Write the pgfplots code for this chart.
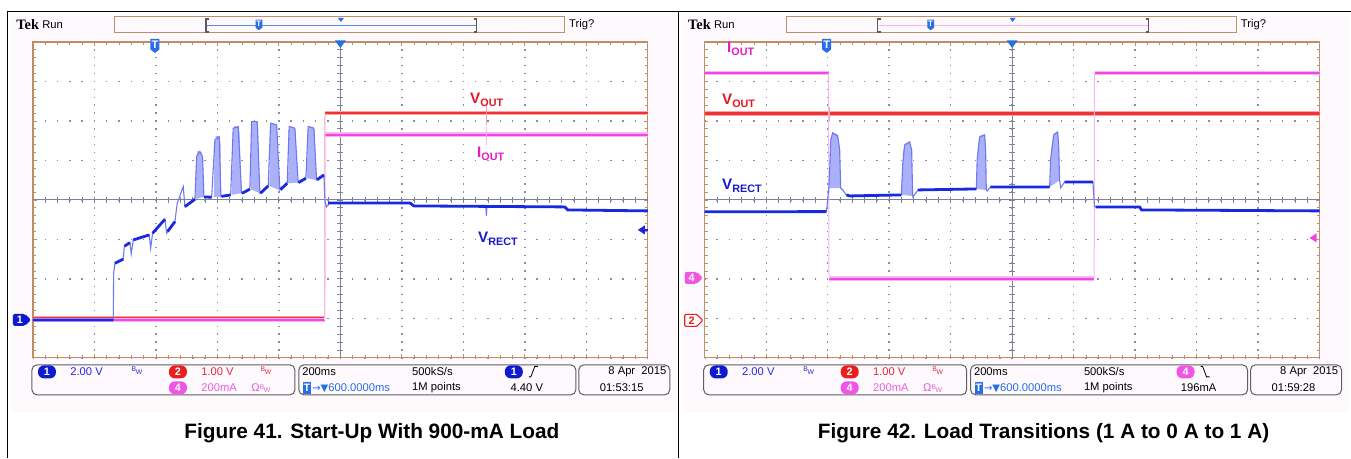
\documentclass[border=0pt]{standalone}
\usepackage{pgfplots}
\usepackage{pgfplotstable}
\pgfplotsset{compat=1.18}
\usepackage{fontspec}
\setmainfont{Liberation Sans}
\newfontfamily\tekfont{Liberation Serif}
\newfontfamily\symfont{DejaVu Sans}

\definecolor{tanc}{RGB}{192,142,100}
\definecolor{gridc}{RGB}{135,140,170}
\definecolor{cenc}{RGB}{125,130,150}
\definecolor{bgc}{RGB}{253,249,253}
\definecolor{c1}{RGB}{25,40,225}
\definecolor{c1l}{RGB}{110,120,240}
\definecolor{c1f}{RGB}{170,177,248}
\definecolor{c2}{RGB}{240,50,55}
\definecolor{c2l}{RGB}{250,165,165}
\definecolor{c4}{RGB}{240,70,228}
\definecolor{c4l}{RGB}{250,180,243}
\definecolor{lab1}{RGB}{25,25,205}
\definecolor{lab2}{RGB}{232,22,35}
\definecolor{lab4}{RGB}{225,30,200}
\definecolor{txt1}{RGB}{40,40,230}
\definecolor{txt2}{RGB}{235,40,60}
\definecolor{txt4}{RGB}{235,95,225}
\definecolor{badge1}{RGB}{15,25,205}
\definecolor{badge2}{RGB}{235,30,30}
\definecolor{badge4}{RGB}{240,85,230}
\definecolor{tpos}{RGB}{40,110,230}
\definecolor{boxc}{RGB}{95,95,95}

\newcommand\sfs{\fontsize{5.6}{6}\selectfont}
\newcommand\sfb{\fontsize{5.4}{6}\bfseries\selectfont}
\newcommand\labf{\fontsize{7.6}{8}\bfseries\selectfont}
\newcommand\capf{\fontsize{10.4}{11}\bfseries\selectfont}
\newcommand\sub[1]{\raisebox{-0.4ex}{\fontsize{5.4}{5}\selectfont #1}}
\newcommand\bw{{\fontsize{3.4}{3}\selectfont\raisebox{0.45ex}{B}\kern-0.05em\raisebox{-0.25ex}{W}}}

\pgfplotsset{scopegrid/.style={
  scale only axis, width=307.5pt, height=158pt,
  xmin=0, xmax=10, ymin=-4, ymax=4,
  axis background/.style={fill=white},
  axis line style={draw=tanc, line width=0.6pt},
  xtick={0,...,10}, ytick={-4,...,4},
  minor tick num=4,
  xticklabels={}, yticklabels={},
  tick align=inside,
  major tick length=1.8pt, minor tick length=1.5pt,
  tick style={draw=tanc, line width=0.4pt},
  xmajorgrids, ymajorgrids,
  major x grid style={draw=gridc, line width=0.7pt, dash pattern=on 0.7pt off 3.25pt, dash phase=0.35pt},
  major y grid style={draw=gridc, line width=0.7pt, dash pattern=on 0.7pt off 5.45pt, dash phase=0.35pt},
  unbounded coords=jump,
}}

% ---------------- Figure 41 data (divisions) ----------------
\pgfplotstableread{
x y
0 -3.00
4.745 -3.00
nan nan
4.755 2.19
7.37 2.19
nan nan
7.39 2.19
10 2.19
}\redA
\pgfplotstableread{
x y
0 -3.04
4.745 -3.04
nan nan
4.755 1.65
7.37 1.65
nan nan
7.39 1.65
10 1.65
}\magA
\pgfplotstableread{
x y
0 -3.04
1.306 -3.04
1.312 -1.856
1.333 -1.603
1.468 -1.501
1.485 -1.182
1.577 -1.081
1.598 -1.367
1.631 -1.013
1.891 -0.886
1.914 -1.223
1.946 -0.843
2.146 -0.489
2.174 -0.843
2.309 -0.549
2.346 -0.084
2.444 0.337
2.472 -0.170
2.634 0.018
2.662 1.096
2.715 1.223
2.759 1.096
2.780 0.084
2.906 0.068
2.959 1.519
3.029 1.603
3.057 0.084
3.215 0.127
3.257 1.815
3.338 1.856
3.393 0.170
3.528 0.271
3.556 1.982
3.647 1.982
3.691 0.170
3.826 0.354
3.865 1.942
3.963 1.899
4.016 0.253
4.135 0.423
4.167 1.856
4.260 1.815
4.314 0.438
4.439 0.549
4.476 1.856
4.569 1.815
4.613 0.506
4.732 0.633
4.748 0.000
4.772 -0.177
4.829 -0.076
6.130 -0.076
6.195 -0.152
7.366 -0.152
7.375 -0.40
7.385 -0.152
8.650 -0.177
8.699 -0.253
10 -0.278
}\blueA
\pgfplotstableread{
x y
0 -3.04
1.306 -3.04
nan nan
1.333 -1.603
1.468 -1.501
nan nan
1.490 -1.170
1.577 -1.081
nan nan
1.631 -1.013
1.891 -0.886
nan nan
1.946 -0.843
2.146 -0.489
nan nan
2.190 -0.800
2.309 -0.549
nan nan
2.472 -0.170
2.634 0.018
nan nan
2.785 0.075
2.906 0.068
nan nan
3.065 0.090
3.215 0.127
nan nan
3.400 0.170
3.528 0.271
nan nan
3.700 0.170
3.826 0.354
nan nan
4.025 0.260
4.135 0.423
nan nan
4.320 0.440
4.439 0.549
nan nan
4.620 0.510
4.732 0.633
nan nan
4.800 -0.080
6.130 -0.076
6.195 -0.152
8.650 -0.177
8.699 -0.253
10 -0.278
}\blueAk

% ---------------- Figure 42 data (divisions) ----------------
\pgfplotstableread{
x y
0 2.19
10 2.19
}\redB
\pgfplotstableread{
x y
0 3.215
2.015 3.215
nan nan
2.025 -2.0
6.335 -2.0
nan nan
6.345 3.215
10 3.215
}\magB
\pgfplotstableread{
x y
0 -0.30
1.979 -0.296
2.000 0.000
2.016 0.253
2.033 0.759
2.049 1.519
2.081 1.696
2.163 1.620
2.195 1.266
2.211 0.304
2.244 0.253
2.304 0.127
2.358 0.101
3.198 0.127
3.220 0.886
3.252 1.392
3.333 1.468
3.366 1.266
3.382 0.101
3.387 0.076
3.468 0.253
4.418 0.278
4.431 1.013
4.472 1.595
4.553 1.646
4.569 1.266
4.580 0.253
4.593 0.228
4.646 0.329
5.610 0.329
5.626 1.013
5.675 1.646
5.740 1.722
5.756 1.392
5.772 0.506
5.789 0.304
5.854 0.456
6.314 0.456
6.341 -0.177
7.073 -0.177
7.106 -0.253
10 -0.278
}\blueB
\pgfplotstableread{
x y
0 -0.30
1.979 -0.296
nan nan
2.304 0.127
2.358 0.101
3.198 0.127
nan nan
3.468 0.253
4.418 0.278
nan nan
4.646 0.329
5.610 0.329
nan nan
5.854 0.456
6.314 0.456
nan nan
6.360 -0.177
7.073 -0.177
7.106 -0.253
10 -0.278
}\blueBk

\newcommand\centerlines{%
  \draw[cenc, line width=0.5pt] (axis cs:5,-4) -- (axis cs:5,4);
  \draw[cenc, line width=0.5pt] (axis cs:0,0) -- (axis cs:10,0);
  \pgfplotsinvokeforeach{0.2,0.4,...,9.9}{\draw[cenc,line width=0.4pt] (axis cs:##1,-0.075) -- (axis cs:##1,0.075);}
  \pgfplotsinvokeforeach{-3.8,-3.6,...,3.9}{\draw[cenc,line width=0.4pt] (axis cs:4.95,##1) -- (axis cs:5.05,##1);}
}

\newcommand\badge[4]{%
  \fill[#3, rounded corners=3pt] (#1-9,#2-6.5) rectangle (#1+9,#2+6.5);
  \node[white, font=\sfb, inner sep=0pt] at (#1,#2) {#4};}
\newcommand\tmark[4]{% x y scale fontsize
  \fill[tpos] (#1-#3*4.5,#2-#3*7) -- (#1+#3*4.5,#2-#3*7) -- (#1+#3*4.5,#2+#3*3.5) -- (#1,#2+#3*7) -- (#1-#3*4.5,#2+#3*3.5) -- cycle;
  \node[white, font=\fontsize{#4}{5}\bfseries\selectfont, inner sep=0pt] at (#1,#2-#3*1) {T};}

\newcommand\commonpanel{%
  % top bar
  \node[anchor=west, inner sep=0pt, font=\fontsize{7.2}{7}\bfseries\tekfont] at (16,25) {Tek};
  \node[anchor=west, inner sep=0pt, font=\sfs] at (42,25) {Run};
  \draw[tanc, line width=0.5pt] (115,17) rectangle (565,33);
  \node[anchor=west, inner sep=0pt, font=\sfs] at (569,25) {Trig?};
  \draw[gray!70!black, line width=0.6pt] (209,19)--(206,19)--(206,32)--(209,32);
  \draw[gray!70!black, line width=0.6pt] (474,19)--(477,19)--(477,32)--(474,32);
  \fill[tpos] (338,18)--(344,18)--(341,22)--cycle;
  \fill[tpos] (335,40.5)--(346,40.5)--(340.5,48)--cycle;
  % bottom boxes
  \draw[boxc, rounded corners=2.5pt, line width=0.5pt] (32,365) rectangle (295,395);
  \draw[boxc, rounded corners=2.5pt, line width=0.5pt] (299,365) rectangle (576,395);
  \draw[boxc, rounded corners=2.5pt, line width=0.5pt] (579,365) rectangle (670,395);
  \badge{47}{372}{badge1}{1}
  \node[anchor=west, inner sep=0pt, font=\sfs, txt1] at (70,372) {2.00 V};
  \node[inner sep=0pt, txt1] at (137,371) {\bw};
  \badge{178}{372}{badge2}{2}
  \node[anchor=west, inner sep=0pt, font=\sfs, txt2] at (201,372) {1.00 V};
  \node[inner sep=0pt, txt2] at (266,371) {\bw};
  \badge{178}{388}{badge4}{4}
  \node[anchor=west, inner sep=0pt, font=\sfs, txt4] at (201,388) {200mA};
  \node[inner sep=0pt, txt4, font=\sfs] at (261,388) {Ω\bw};
  \node[anchor=west, inner sep=0pt, font=\sfs] at (302,372) {200ms};
  \node[anchor=west, inner sep=0pt, font=\sfs] at (412,372) {500kS/s};
  \fill[tpos] (303,382) rectangle (311,394);
  \node[white, inner sep=0pt, font=\sfb] at (307,388) {T};
  \node[anchor=west, inner sep=0pt, font=\sfs, tpos] at (312,388) {{\symfont\fontsize{5}{5}\selectfont →▼}600.0000ms};
  \node[anchor=west, inner sep=0pt, font=\sfs] at (412,388) {1M points};
  \node[anchor=east, inner sep=0pt, font=\sfs] at (667,372) {8 Apr\ \ 2015};
}

\begin{document}
\begin{tikzpicture}
\begin{scope}[x=0.5pt,y=-0.5pt]
\useasboundingbox (0,0) rectangle (1351,458);
\fill[white] (0,0) rectangle (1351,458);
\fill[bgc] (11,14) rectangle (676,412);
\fill[bgc] (682,14) rectangle (1349,412);
\end{scope}

% ---------------- Figure 41 ----------------
\begin{axis}[scopegrid, at={(16.5pt,-179pt)}, anchor=south west]
\centerlines
\addplot[c2l, line width=2.0pt, forget plot] table {\redA};
\addplot[c2, line width=1.0pt] table {\redA};
\addplot[c2l, line width=0.5pt] coordinates {(4.745,-3.0) (4.75,2.19)};
\addplot[c2l, line width=0.6pt] coordinates {(7.38,2.40) (7.38,1.90)};
\addplot[c4l, line width=2.4pt, forget plot] table {\magA};
\addplot[c4, line width=1.2pt] table {\magA};
\addplot[c4l, line width=0.5pt] coordinates {(4.745,-3.04) (4.75,1.65)};
\addplot[c4l, line width=0.6pt] coordinates {(7.38,1.85) (7.38,1.40)};
\addplot[fill=c1f, draw=none] coordinates {(2.64,0.02)(2.655,1.05)(2.675,1.24)(2.74,1.22)(2.76,1.05)(2.78,0.08)} -- cycle;
\addplot[fill=c1f, draw=none] coordinates {(2.94,0.07)(2.955,1.45)(2.975,1.62)(3.035,1.60)(3.05,1.45)(3.06,0.08)} -- cycle;
\addplot[fill=c1f, draw=none] coordinates {(3.235,0.13)(3.25,1.70)(3.27,1.87)(3.34,1.85)(3.36,1.70)(3.39,0.17)} -- cycle;
\addplot[fill=c1f, draw=none] coordinates {(3.54,0.27)(3.55,1.85)(3.57,1.99)(3.64,1.99)(3.66,1.85)(3.69,0.17)} -- cycle;
\addplot[fill=c1f, draw=none] coordinates {(3.845,0.35)(3.86,1.80)(3.88,1.95)(3.95,1.92)(3.97,1.80)(4.01,0.25)} -- cycle;
\addplot[fill=c1f, draw=none] coordinates {(4.15,0.42)(4.16,1.75)(4.18,1.87)(4.25,1.84)(4.27,1.75)(4.31,0.44)} -- cycle;
\addplot[fill=c1f, draw=none] coordinates {(4.455,0.55)(4.47,1.75)(4.49,1.87)(4.56,1.84)(4.58,1.75)(4.61,0.50)} -- cycle;
\addplot[c1l, line width=0.55pt] table {\blueA};
\addplot[c1, line width=1.4pt] table {\blueAk};
\end{axis}

% ---------------- Figure 42 ----------------
\begin{axis}[scopegrid, at={(352.5pt,-179pt)}, anchor=south west]
\centerlines
\addplot[c2l, line width=2.4pt, forget plot] table {\redB};
\addplot[c2, line width=1.1pt] table {\redB};
\addplot[c2l, line width=0.6pt] coordinates {(2.02,2.35) (2.02,2.0)};
\addplot[c2l, line width=0.6pt] coordinates {(6.34,2.19) (6.34,1.75)};
\addplot[c4l, line width=2.4pt, forget plot] table {\magB};
\addplot[c4, line width=1.1pt] table {\magB};
\addplot[c4l, line width=0.5pt] coordinates {(2.015,3.215) (2.02,-1.85) (2.03,-2.0)};
\addplot[c4l, line width=0.5pt] coordinates {(6.335,-2.0) (6.34,3.215)};
\addplot[fill=c1f, draw=none] coordinates {(2.02,0.3)(2.045,1.5)(2.075,1.72)(2.165,1.65)(2.195,1.30)(2.21,0.3)} -- cycle;
\addplot[fill=c1f, draw=none] coordinates {(3.20,0.13)(3.225,1.2)(3.255,1.42)(3.335,1.49)(3.365,1.28)(3.38,0.1)} -- cycle;
\addplot[fill=c1f, draw=none] coordinates {(4.42,0.28)(4.44,1.3)(4.47,1.62)(4.555,1.67)(4.57,1.3)(4.58,0.25)} -- cycle;
\addplot[fill=c1f, draw=none] coordinates {(5.615,0.33)(5.64,1.3)(5.675,1.67)(5.74,1.74)(5.76,1.4)(5.775,0.5)} -- cycle;
\addplot[c1l, line width=0.55pt] table {\blueB};
\addplot[c1, line width=1.4pt] table {\blueBk};
\end{axis}

\begin{scope}[x=0.5pt,y=-0.5pt]
% frame lines
\draw[black, line width=0.5pt] (7,12) -- (1351,12);
\draw[black, line width=0.5pt] (8,12) -- (8,458);
\draw[black, line width=0.5pt] (679,12) -- (679,458);

% left panel decorations
\commonpanel
\draw[tpos!80, line width=0.9pt] (207,25.5) -- (476,25.5);
\tmark{259}{25}{0.75}{4}
\tmark{155}{46}{1}{5.5}
\badge{514}{372}{badge1}{1}
\draw[black, line width=0.4pt] (529,377) -- (531,377) -- (535,366.5) -- (538,366.5);
\node[inner sep=0pt, font=\sfs] at (527,388) {4.40 V};
\node[inner sep=0pt, font=\sfs] at (622,388) {01:53:15};
% channel markers
\fill[badge1, rounded corners=1pt] (13,314) -- (25,314) -- (31,320) -- (25,326) -- (13,326) -- cycle;
\node[white, inner sep=0pt, font=\sfb] at (20,320) {1};
\fill[c1] (638,230) -- (645,225.5) -- (645,234.5) -- cycle;
\draw[c1, line width=0.7pt] (644,230) -- (648,230);
% trace labels
\node[anchor=west, inner sep=0pt, lab2, font=\labf] at (470,100) {V\sub{OUT}};
\node[anchor=west, inner sep=0pt, lab4, font=\labf] at (477,154) {I\sub{OUT}};
\node[anchor=west, inner sep=0pt, lab1, font=\labf] at (478,239) {V\sub{RECT}};
\node[font=\capf] at (372,433) {Figure 41. Start-Up With 900-mA Load};

% right panel decorations
\begin{scope}[xshift=336pt]
\commonpanel
\draw[c4l, line width=0.9pt] (207,25.5) -- (476,25.5);
\tmark{259}{25}{0.75}{4}
\tmark{155}{46}{1}{5.5}
\badge{514}{372}{badge4}{4}
\draw[black, line width=0.4pt] (529,366.5) -- (531,366.5) -- (535,377) -- (538,377);
\node[inner sep=0pt, font=\sfs] at (527,388) {196mA};
\node[inner sep=0pt, font=\sfs] at (622,388) {01:59:28};
\end{scope}
\fill[badge4, rounded corners=1pt] (685,272) -- (697,272) -- (703,278) -- (697,284) -- (685,284) -- cycle;
\node[white, inner sep=0pt, font=\sfb] at (692,278) {4};
\draw[badge2, fill=white, line width=0.6pt, rounded corners=0.5pt] (685,314.5) -- (697,314.5) -- (703,320.5) -- (697,326.5) -- (685,326.5) -- cycle;
\node[badge2, inner sep=0pt, font=\sfb] at (692,320.5) {2};
\fill[c4] (1310,238) -- (1317,233.5) -- (1317,242.5) -- cycle;
\node[anchor=west, inner sep=0pt, lab4, font=\labf] at (727,49) {I\sub{OUT}};
\node[anchor=west, inner sep=0pt, lab2, font=\labf] at (722,101) {V\sub{OUT}};
\node[anchor=west, inner sep=0pt, lab1, font=\labf] at (722,186) {V\sub{RECT}};
\node[font=\capf] at (1044,433) {Figure 42. Load Transitions (1 A to 0 A to 1 A)};
\end{scope}
\end{tikzpicture}
\end{document}
